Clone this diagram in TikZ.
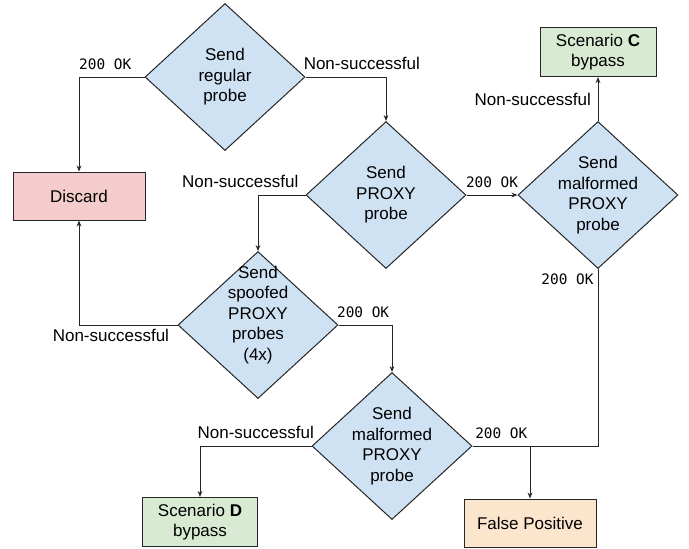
\documentclass[tikz,border=0pt]{standalone}
\usepackage{fontspec}
\setmainfont{Liberation Sans}
\newfontfamily\okfont{DejaVu Sans Mono}
\usetikzlibrary{positioning,shapes.geometric,arrows.meta}
\definecolor{probeblue}{HTML}{CFE2F3}
\definecolor{discardred}{HTML}{F4CCCC}
\definecolor{bypassgreen}{HTML}{D9EAD3}
\definecolor{fpbeige}{HTML}{FCE5CD}
\tikzset{
  decision/.style={diamond,draw=black!85,fill=probeblue,line width=0.5pt,aspect=1.09,
    minimum width=80pt,minimum height=73.5pt,inner sep=-4pt,align=center,
    font=\fontsize{8.5}{10.25}\selectfont},
  result/.style={rectangle,draw=black!85,line width=0.5pt,minimum height=24pt,
    align=center,font=\fontsize{8.5}{10}\selectfont},
  link/.style={draw=black!85,line width=0.5pt},
  flow/.style={link,-{Stealth[length=3pt,width=2.4pt]}},
  nok/.style={font=\fontsize{8.5}{10}\selectfont},
  ok/.style={font=\okfont\fontsize{7.2}{8}\selectfont},
}
\begin{document}
\begin{tikzpicture}[x=0.5pt,y=-0.5pt]
    \useasboundingbox (0,0) rectangle (689,548);
    \node[decision] (regular) at (225,77) {Send\\regular\\probe};
    \node[result,fill=discardred,minimum width=66pt] (discard) at (79,196) {Discard};
    \node[decision] (proxy) at (386,195) {Send\\PROXY\\probe};
    \node[decision] (malformed) at (598,195) {Send\\malformed\\PROXY\\probe};
    \node[result,fill=bypassgreen,minimum width=58pt] (scenC) at (598,52) {Scenario \textbf{C}\\bypass};
    \node[decision] (spoofed) at (258,325) {Send\\spoofed\\PROXY\\probes\\(4x)\\[1.5pt]\mbox{}};
    \node[decision] (malformedB) at (392,446) {Send\\malformed\\PROXY\\probe};
    \node[result,fill=bypassgreen,minimum width=57.5pt] (scenD) at (200,522) {Scenario \textbf{D}\\bypass};
    \node[result,fill=fpbeige,minimum width=66pt] (falsepos) at (530,523) {False Positive};
    \coordinate (join) at (falsepos.north |- malformedB.east);
    % regular probe
    \draw[flow] (regular.west) -| node[ok,above,pos=0.3] (okReg) {200 OK} (discard.north);
    \draw[flow] (regular.east) -| node[nok,above,pos=0.35] (nokReg) {Non-successful} (proxy.north);
    % PROXY probe
    \draw[flow] (proxy.west) -| node[nok,above left,pos=0] (nokProxy) {Non-successful} (spoofed.north);
    \draw[flow] (proxy.east) -- node[ok,above] (okProxy) {200 OK} (malformed.west);
    % malformed PROXY probe
    \draw[flow] (malformed.north) -- node[nok,left] (nokMal) {Non-successful} (scenC.south);
    \draw[link] (malformed.south) |- node[ok,below left,pos=0,inner sep=2pt] (okMal) {200 OK} (join);
    % spoofed probes
    \draw[flow] (spoofed.west) -| node[nok,below left,pos=0,inner sep=2pt,xshift=-2pt] (nokSpoof) {Non-successful} (discard.south);
    \draw[flow] (spoofed.east) -| node[ok,above,pos=0.23] (okSpoof) {200 OK} (malformedB.north);
    % second malformed probe
    \draw[flow] (malformedB.west) -| node[nok,above,pos=0.25] (nokMalB) {Non-successful} (scenD.north);
    \draw[flow] (malformedB.east) -- node[ok,above] (okMalB) {200 OK} (join) -- (falsepos.north);
\end{tikzpicture}
\end{document}
